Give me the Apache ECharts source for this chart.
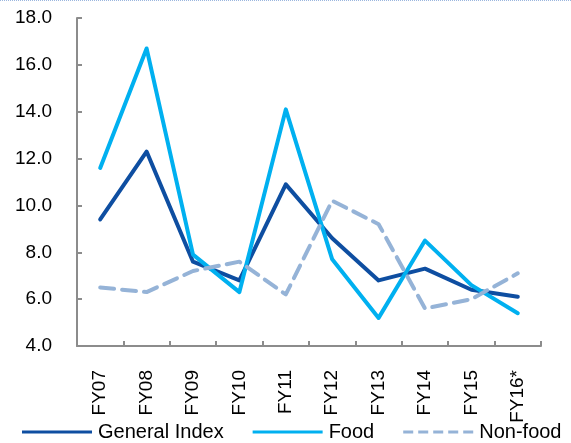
<!DOCTYPE html>
<html>
<head>
<meta charset="utf-8">
<script src="https://cdn.jsdelivr.net/npm/echarts@6/dist/echarts.min.js"></script>
<style>
  html, body { margin: 0; padding: 0; background: #fff; }
  #chart { width: 571px; height: 443px; }
</style>
</head>
<body>
<div id="chart"></div>
<script>
// Inflation by fiscal year (%)
const years = ['FY07', 'FY08', 'FY09', 'FY10', 'FY11', 'FY12', 'FY13', 'FY14', 'FY15', 'FY16*'];
const generalIndex = [9.4, 12.3, 7.6, 6.8, 10.9, 8.6, 6.8, 7.3, 6.4, 6.1];
const food = [11.6, 16.7, 7.9, 6.3, 14.1, 7.7, 5.2, 8.5, 6.6, 5.4];
const nonFood = [6.5, 6.3, 7.2, 7.6, 6.2, 10.2, 9.2, 5.6, 6.0, 7.1];

const FONT = 'Liberation Sans, Arial, sans-serif';
const AXIS_GREY = '#8c8c8c';
const C_GENERAL = '#0e4ea1';
const C_FOOD = '#00b0f0';
const C_NONFOOD = '#95b3d7';

// legend keys: solid bar for the solid lines, five dashes for the dashed one
const SOLID_KEY = 'path://M0,0h70v3h-70z';
const DASHED_KEY = 'path://M0,0h10v3h-10z M15,0h10v3h-10z M30,0h10v3h-10z M45,0h10v3h-10z M60,0h10v3h-10z';

const chart = echarts.init(document.getElementById('chart'), null, { renderer: 'canvas' });

chart.setOption({
  animation: false,
  backgroundColor: '#ffffff',
  grid: { left: 77, right: 30, top: 18, bottom: 97, containLabel: false },
  graphic: [{
    type: 'line',
    shape: { x1: 0, y1: 0.5, x2: 571, y2: 0.5 },
    style: { stroke: '#9bb6de', lineWidth: 1, lineDash: [1, 1] },
    silent: true
  }],
  legend: {
    left: 22,
    top: 422,
    padding: 0,
    width: 560,
    itemWidth: 70,
    itemHeight: 3,
    itemGap: 29,
    textStyle: { fontFamily: FONT, fontSize: 20, color: '#000', padding: [0, 0, 0, 1] },
    data: [
      { name: 'General Index', icon: SOLID_KEY, itemStyle: { color: C_GENERAL } },
      { name: 'Food', icon: SOLID_KEY, itemStyle: { color: C_FOOD } },
      { name: 'Non-food', icon: DASHED_KEY, itemStyle: { color: C_NONFOOD } }
    ]
  },
  xAxis: {
    type: 'category',
    data: years,
    boundaryGap: true,
    axisLine: { lineStyle: { color: AXIS_GREY, width: 2 } },
    axisTick: { show: true, inside: true, length: 5, lineStyle: { color: AXIS_GREY, width: 2 } },
    axisLabel: { rotate: 90, margin: 24, fontFamily: FONT, fontSize: 19, color: '#000' },
    splitLine: { show: false }
  },
  yAxis: {
    type: 'value',
    min: 4,
    max: 18,
    interval: 2,
    axisLine: { show: true, lineStyle: { color: AXIS_GREY, width: 2 } },
    axisTick: { show: true, inside: true, length: 5, lineStyle: { color: AXIS_GREY, width: 2 } },
    axisLabel: {
      margin: 25,
      fontFamily: FONT,
      fontSize: 19,
      color: '#000',
      formatter: v => v.toFixed(1)
    },
    splitLine: { show: false }
  },
  series: [
    {
      name: 'General Index',
      type: 'line',
      data: generalIndex,
      symbol: 'none',
      color: C_GENERAL,
      lineStyle: { color: C_GENERAL, width: 4, join: 'round', cap: 'round' }
    },
    {
      name: 'Food',
      type: 'line',
      data: food,
      symbol: 'none',
      color: C_FOOD,
      lineStyle: { color: C_FOOD, width: 4, join: 'round', cap: 'round' }
    },
    {
      name: 'Non-food',
      type: 'line',
      data: nonFood,
      symbol: 'none',
      color: C_NONFOOD,
      lineStyle: { color: C_NONFOOD, width: 4, type: [14, 8], join: 'round', cap: 'round' }
    }
  ]
});
</script>
</body>
</html>
